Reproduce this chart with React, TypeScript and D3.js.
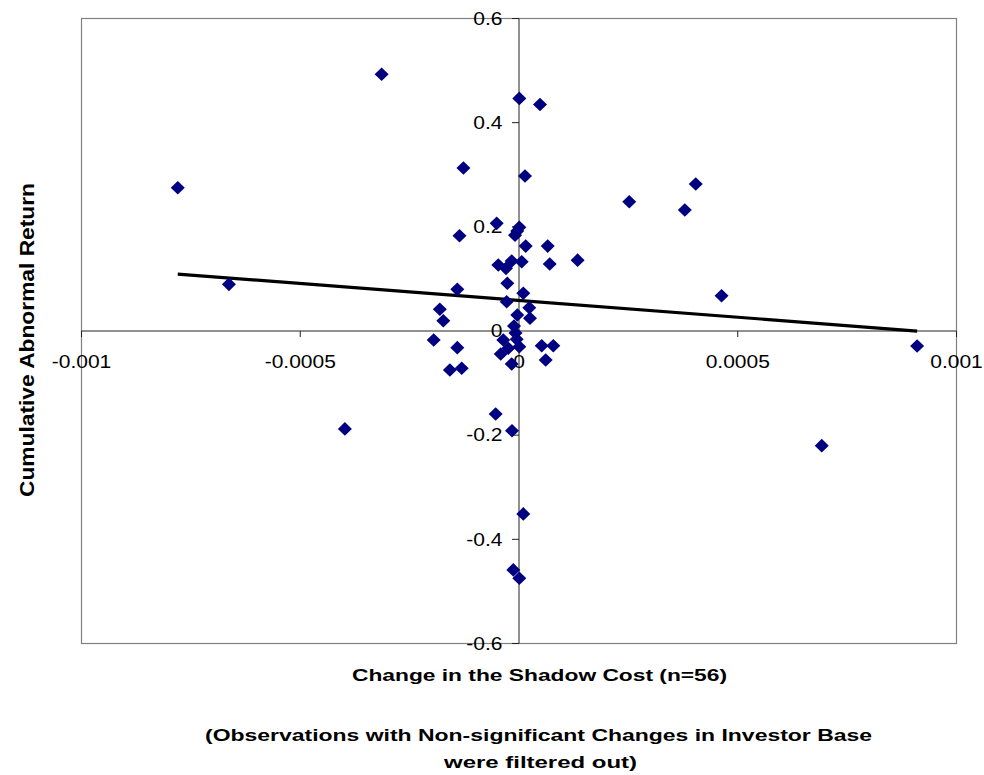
import React from "react";
import * as d3 from "d3";

// Change in the shadow cost (x) and cumulative abnormal return (y), n=56
const shadowCostChange: number[] = [
  -0.00078, -0.000663, -0.000314, -0.000127, -0.000136, -0.000141, -0.000181, -0.000173,
  -0.000195, -0.000141, -0.000158, -0.000131, -0.000398, -0.000051, 0.0000007, -0.0000091,
  0.0000153, 0.0000656, 0.000134, 0.0000702, -0.0000473, -0.0000297, -0.0000167, 0.0000062,
  -0.0000267, 0.0000098, -0.0000281, 0.0000235, -0.0000039, 0.0000251, -0.0000114, -0.0000359,
  -0.0000053, 0.0000007, -0.0000245, -0.0000418, 0.0000519, 0.0000784, 0.000061, -0.0000167,
  0.0000007, 0.000048, 0.0000137, -0.0000533, -0.000016, 0.0000098, -0.000013, 0.0000007,
  0.000404, 0.000252, 0.000379, 0.000463, 0.00091, 0.000692, -0.000004, -0.000008,
];
const abnormalReturn: number[] = [
  0.275, 0.0896, 0.493, 0.313, 0.183, 0.08, 0.0417, 0.0198,
  -0.0173, -0.032, -0.0749, -0.0716, -0.188, 0.2067, 0.199, 0.184,
  0.163, 0.163, 0.136, 0.1286, 0.1267, 0.1203, 0.1344, 0.133,
  0.0916, 0.0724, 0.0562, 0.0447, 0.0307, 0.0244, 0.0096, -0.0173,
  -0.0159, -0.0301, -0.0332, -0.0441, -0.0282, -0.0282, -0.0557, -0.0633,
  0.4466, 0.435, 0.2975, -0.1593, -0.1914, -0.3512, -0.4587, -0.4747,
  0.2821, 0.2482, 0.2322, 0.0678, -0.0288, -0.2201, 0.192, -0.004,
];

// Linear trend line
const trendIntercept = 0.0588;
const trendSlope = -64.7;

const xTicks: number[] = [-0.001, -0.0005, 0, 0.0005, 0.001];
const xTickLabels: string[] = ["-0.001", "-0.0005", "0", "0.0005", "0.001"];
const yTicks: number[] = [0.6, 0.4, 0.2, 0, -0.2, -0.4, -0.6];
const yTickLabels: string[] = ["0.6", "0.4", "0.2", "0", "-0.2", "-0.4", "-0.6"];

const xTitle = "Change in the Shadow Cost (n=56)";
const yTitle = "Cumulative Abnormal Return";
const noteLine1 = "(Observations with Non-significant Changes in Investor Base";
const noteLine2 = "were filtered out)";

const W = 984;
const H = 775;
const FONT = "Arial, 'Liberation Sans', Helvetica, sans-serif";

export default function App() {
  const x = d3.scaleLinear().domain([-0.001, 0.001]).range([81.5, 956.5]);
  const y = d3.scaleLinear().domain([-0.6, 0.6]).range([643.5, 18.5]);

  const points = shadowCostChange.map((v, i) => ({ x: v, y: abnormalReturn[i] }));
  const xMin = d3.min(shadowCostChange) as number;
  const xMax = d3.max(shadowCostChange) as number;
  const trend = [xMin, xMax].map((v) => ({ x: v, y: trendIntercept + trendSlope * v }));
  const line = d3
    .line<{ x: number; y: number }>()
    .x((d) => x(d.x))
    .y((d) => y(d.y));

  const x0 = x(0);
  const y0 = y(0);
  const diamond = "M0,-6.8L7,0L0,6.8L-7,0Z";

  return (
    <div style={{ position: "fixed", left: 0, top: 0, width: W, height: H, background: "#fff" }}>
      <svg width={W} height={H} style={{ display: "block" }} fontFamily={FONT}>
        <rect x={0} y={0} width={W} height={H} fill="#fff" />
        {/* plot area border */}
        <rect
          x={x(-0.001)}
          y={y(0.6)}
          width={x(0.001) - x(-0.001)}
          height={y(-0.6) - y(0.6)}
          fill="none"
          stroke="#808080"
          strokeWidth={1.2}
        />
        {/* axes through zero */}
        <line x1={x(-0.001)} x2={x(0.001)} y1={y0} y2={y0} stroke="#222" strokeWidth={1} />
        <line x1={x0} x2={x0} y1={y(0.6)} y2={y(-0.6)} stroke="#222" strokeWidth={1} />
        {xTicks.map((t, i) => (
          <g key={"xt" + i}>
            <line x1={x(t)} x2={x(t)} y1={y0} y2={y0 + 6} stroke="#222" strokeWidth={1} />
            <text
              transform={`translate(${x(t)},${y0 + 37}) scale(1.2,1)`}
              textAnchor="middle"
              fontSize={17.5}
              fill="#000"
            >
              {xTickLabels[i]}
            </text>
          </g>
        ))}
        {yTicks.map((t, i) => (
          <g key={"yt" + i}>
            <line x1={x0 - 7} x2={x0} y1={y(t)} y2={y(t)} stroke="#222" strokeWidth={1} />
            <text
              transform={`translate(${x0 - 16.5},${y(t) + 6.3}) scale(1.2,1)`}
              textAnchor="end"
              fontSize={17.5}
              fill="#000"
            >
              {yTickLabels[i]}
            </text>
          </g>
        ))}
        {/* trend line */}
        <path d={line(trend) || ""} fill="none" stroke="#000" strokeWidth={3.2} />
        {/* points */}
        {points.map((p, i) => (
          <path key={"p" + i} d={diamond} transform={`translate(${x(p.x)},${y(p.y)})`} fill="#000080" />
        ))}
        {/* titles */}
        <text
          x={352}
          y={681}
          fontSize={16}
          fontWeight="bold"
          textLength={375}
          lengthAdjust="spacingAndGlyphs"
          fill="#000"
        >
          {xTitle}
        </text>
        <text
          x={205}
          y={741}
          fontSize={16}
          fontWeight="bold"
          textLength={667}
          lengthAdjust="spacingAndGlyphs"
          fill="#000"
        >
          {noteLine1}
        </text>
        <text
          x={444}
          y={768}
          fontSize={16}
          fontWeight="bold"
          textLength={193}
          lengthAdjust="spacingAndGlyphs"
          fill="#000"
        >
          {noteLine2}
        </text>
        <text
          transform={`translate(34,${497}) rotate(-90)`}
          fontSize={21}
          fontWeight="bold"
          textLength={314}
          lengthAdjust="spacingAndGlyphs"
          fill="#000"
        >
          {yTitle}
        </text>
      </svg>
    </div>
  );
}
